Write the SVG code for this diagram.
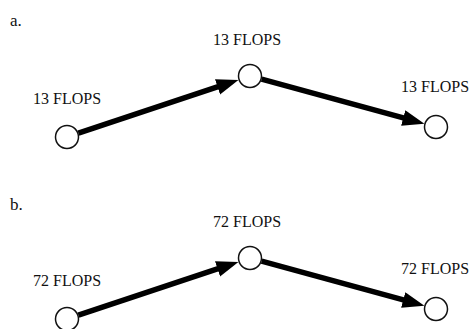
<svg xmlns="http://www.w3.org/2000/svg" width="473" height="329" viewBox="0 0 473 329">
<style>
text{font-family:"Liberation Serif","Times New Roman",serif;font-size:16px;fill:#111}
.n{fill:#fff;stroke:#111;stroke-width:1.5}
.e{stroke:#000;stroke-width:5.5;fill:none}
</style>
<defs>
<marker id="ah" markerUnits="userSpaceOnUse" markerWidth="24" markerHeight="18" refX="3" refY="8" orient="auto">
<path d="M0,0 L22,8 L0,16 z" fill="#000"/>
</marker>
</defs>
<rect width="473" height="329" fill="#fff"/>
<text x="10" y="26" style="font-size:17px">a.</text>
<text x="10" y="210" style="font-size:17px">b.</text>
<g id="edges">
<line class="e" x1="78.4" y1="133.2" x2="220.4" y2="85.9" marker-end="url(#ah)"/>
<line class="e" x1="261.6" y1="79.2" x2="406.1" y2="118.7" marker-end="url(#ah)"/>
<line class="e" x1="78.4" y1="315.2" x2="220.4" y2="267.9" marker-end="url(#ah)"/>
<line class="e" x1="261.6" y1="261.2" x2="406.1" y2="300.7" marker-end="url(#ah)"/>
</g>
<g id="a1"><circle class="n" cx="67" cy="137" r="11.5"/><text x="33" y="104">13 FLOPS</text></g>
<g id="a2"><circle class="n" cx="250" cy="76" r="11.5"/><text x="213" y="45">13 FLOPS</text></g>
<g id="a3"><circle class="n" cx="436" cy="127" r="11.5"/><text x="401" y="92">13 FLOPS</text></g>
<g id="b1"><circle class="n" cx="67" cy="319" r="11.5"/><text x="33" y="286">72 FLOPS</text></g>
<g id="b2"><circle class="n" cx="250" cy="258" r="11.5"/><text x="213" y="227">72 FLOPS</text></g>
<g id="b3"><circle class="n" cx="436" cy="309" r="11.5"/><text x="401" y="274">72 FLOPS</text></g>
</svg>
